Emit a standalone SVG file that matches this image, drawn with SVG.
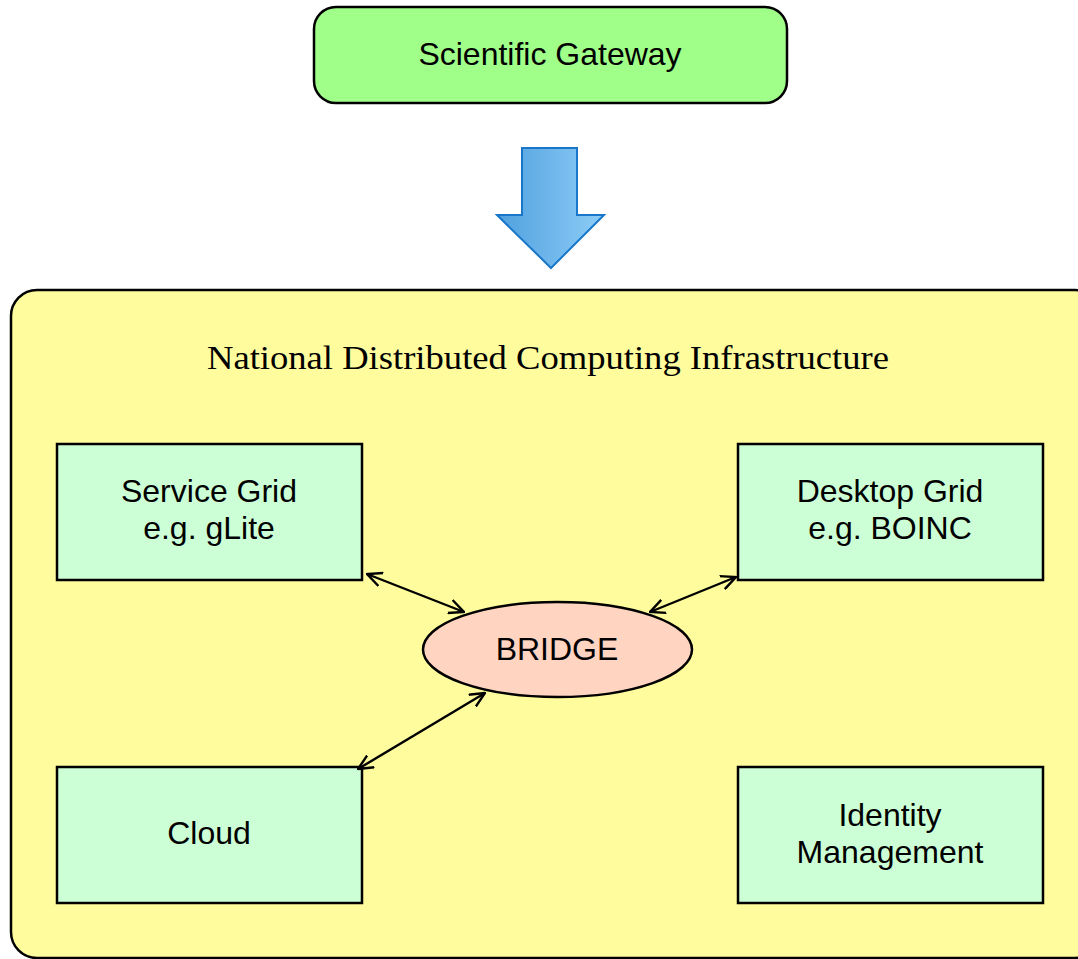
<svg xmlns="http://www.w3.org/2000/svg" width="1078" height="959" viewBox="0 0 1078 959">
<style>
.t{font-family:"Liberation Sans",Arial,sans-serif;font-size:32px;fill:#000;text-anchor:middle}
.box{fill:#CCFFD6;stroke:#000;stroke-width:2.5}
.con{stroke:#000;stroke-width:2.4;fill:none;marker-start:url(#ah);marker-end:url(#ah)}
</style>
<defs>
<linearGradient id="bg" x1="0" y1="0" x2="1" y2="0">
<stop offset="0" stop-color="#4FA0DE"/>
<stop offset="1" stop-color="#8ECDF7"/>
</linearGradient>
<marker id="ah" viewBox="0 0 16 16" refX="15" refY="8" markerWidth="16" markerHeight="16" markerUnits="userSpaceOnUse" orient="auto-start-reverse">
<path d="M0,1 L15,8 L0,15" fill="none" stroke="#000" stroke-width="2.4"/>
</marker>
</defs>
<rect width="1078" height="959" fill="#fff"/>
<g id="gateway">
<rect x="314" y="7" width="473" height="96" rx="22" fill="#A0FF88" stroke="#000" stroke-width="2.5"/>
<text class="t" x="550" y="65">Scientific Gateway</text>
</g>
<g id="down-arrow">
<path d="M522,148 L577,148 L577,215 L604,215 L551,268 L497,215 L522,215 Z" fill="url(#bg)" stroke="#1976C8" stroke-width="2"/>
</g>
<g id="ndci">
<rect x="11" y="290" width="1090" height="668" rx="26" fill="#FFFC9E" stroke="#000" stroke-width="2.5"/>
<text x="548" y="369" font-family="'Liberation Serif','Times New Roman',serif" font-size="33" textLength="682" lengthAdjust="spacingAndGlyphs" text-anchor="middle">National Distributed Computing Infrastructure</text>
</g>
<g id="service-grid">
<rect class="box" x="57" y="444" width="305" height="136"/>
<text class="t" x="209" y="502">Service Grid</text>
<text class="t" x="209" y="539">e.g. gLite</text>
</g>
<g id="desktop-grid">
<rect class="box" x="738" y="444" width="305" height="136"/>
<text class="t" x="890" y="502">Desktop Grid</text>
<text class="t" x="890" y="539">e.g. BOINC</text>
</g>
<g id="cloud">
<rect class="box" x="57" y="767" width="305" height="136"/>
<text class="t" x="209" y="844">Cloud</text>
</g>
<g id="identity">
<rect class="box" x="738" y="767" width="305" height="136"/>
<text class="t" x="890" y="826">Identity</text>
<text class="t" x="890" y="863">Management</text>
</g>
<g id="bridge">
<ellipse cx="557.5" cy="649.5" rx="134.5" ry="47.5" fill="#FFD4C0" stroke="#000" stroke-width="2.5"/>
<text class="t" x="557" y="660">BRIDGE</text>
</g>
<g id="connectors">
<line class="con" x1="367" y1="574" x2="464" y2="612"/>
<line class="con" x1="736" y1="577" x2="650" y2="612"/>
<line class="con" x1="358" y1="769" x2="485" y2="693"/>
</g>
</svg>
